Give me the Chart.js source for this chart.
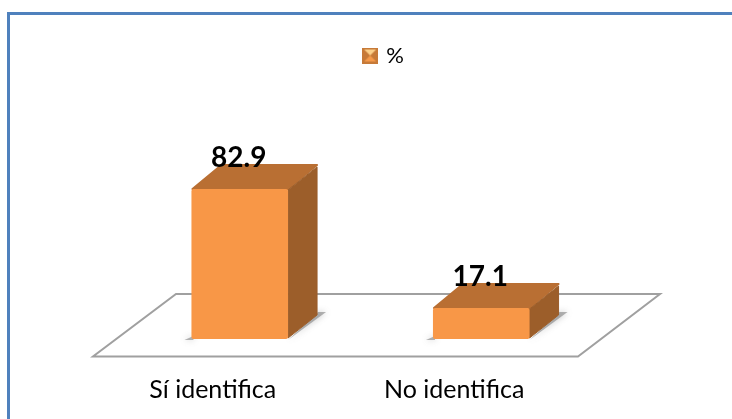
<!DOCTYPE html>
<html>
<head>
<meta charset="utf-8">
<script src="https://cdn.jsdelivr.net/npm/chart.js@4"></script>
<style>
  html, body { margin: 0; padding: 0; background: #fff; overflow: hidden; }
  #frame { position: absolute; left: 7px; top: 12px; right: 0; bottom: 0; border-left: 3px solid #4f81bd; border-top: 3px solid #4f81bd; }
  #grafico { position: absolute; left: 0; top: 0; }
</style>
</head>
<body>
<div id="frame"></div>
<canvas id="grafico" width="732" height="419"></canvas>
<script>
const categorias = ["Sí identifica", "No identifica"];
const porcentajes = [82.9, 17.1];
const nombreSerie = "%";

// profundidad del efecto 3D
const fondoX = 30;
const fondoY = -24;

function poligono(ctx, puntos, color, redondeo) {
  ctx.beginPath();
  ctx.moveTo(puntos[0][0], puntos[0][1]);
  puntos.slice(1).forEach(p => ctx.lineTo(p[0], p[1]));
  ctx.closePath();
  ctx.fillStyle = color;
  ctx.fill();
  if (redondeo) {
    ctx.strokeStyle = color;
    ctx.lineJoin = "round";
    ctx.lineWidth = redondeo;
    ctx.stroke();
  }
}

// icono de la leyenda
const icono = document.createElement("canvas");
icono.width = 16;
icono.height = 16;
const ic = icono.getContext("2d");
ic.fillStyle = "#c77a38";
ic.fillRect(0, 0, 16, 16);
poligono(ic, [[2, 2], [14, 2], [8, 8]], "#fcd08a");
poligono(ic, [[2, 14], [14, 14], [8, 8]], "#f59a4b");

const cajas3d = {
  id: "cajas3d",
  afterLayout(chart) {
    chart.legend.left += 24;
    chart.legend.right += 24;
  },
  beforeDatasetsDraw(chart) {
    const ctx = chart.ctx;
    const base = chart.scales.y.getPixelForValue(0);
    const area = chart.chartArea;

    // piso
    ctx.save();
    ctx.beginPath();
    ctx.moveTo(area.left - 26, base + 17.5);
    ctx.lineTo(area.right - 24, base + 17.5);
    ctx.lineTo(area.right + 58, base - 45);
    ctx.lineTo(area.left + 57, base - 45);
    ctx.closePath();
    ctx.strokeStyle = "#a0a0a0";
    ctx.lineWidth = 2;
    ctx.stroke();

    chart.getDatasetMeta(0).data.forEach(barra => {
      const izq = barra.x - barra.width / 2;
      const der = barra.x + barra.width / 2;
      const arriba = barra.y;

      // sombra
      ctx.save();
      ctx.shadowColor = "rgba(110,110,110,0.7)";
      ctx.shadowBlur = 6;
      poligono(ctx, [[der, base + 1], [der + fondoX + 8, base + fondoY - 3], [der + fondoX, base + fondoY - 3]], "rgba(130,130,130,0.6)");
      poligono(ctx, [[izq - 7, base + 1], [izq + 2, base + 1], [izq + 2, base - 3]], "rgba(130,130,130,0.6)");
      ctx.restore();

      // cara superior
      poligono(ctx, [[izq + 1, arriba], [izq + fondoX, arriba + fondoY], [der + fondoX - 1, arriba + fondoY], [der, arriba]], "#b96f33", 2);
      // cara lateral
      poligono(ctx, [[der, arriba + 1], [der + fondoX - 1, arriba + fondoY + 2], [der + fondoX - 1, base + fondoY], [der, base - 1]], "#9c5e2a", 1);
    });
    ctx.restore();
  },
  afterDatasetsDraw(chart) {
    const ctx = chart.ctx;
    ctx.save();
    ctx.font = "bold 28px Lato";
    ctx.fillStyle = "#000";
    ctx.textAlign = "center";
    ctx.textBaseline = "middle";
    chart.getDatasetMeta(0).data.forEach((barra, i) => {
      ctx.fillText(porcentajes[i], barra.x - 1, barra.y - 31);
    });
    ctx.restore();
  }
};

new Chart(document.getElementById("grafico"), {
  type: "bar",
  data: {
    labels: categorias,
    datasets: [{
      label: nombreSerie,
      data: porcentajes,
      backgroundColor: "#f89747",
      borderRadius: 2,
      borderSkipped: false,
      barPercentage: 0.8,
      categoryPercentage: 0.5
    }]
  },
  options: {
    responsive: false,
    animation: false,
    layout: {
      padding: { top: 43.5, left: 119, right: 130, bottom: 0 }
    },
    plugins: {
      tooltip: { enabled: false },
      legend: {
        position: "top",
        labels: {
          usePointStyle: true,
          pointStyle: icono,
          pointStyleWidth: 10,
          boxHeight: 16,
          padding: 1,
          color: "#000",
          font: { family: "Lato", size: 22 }
        }
      }
    },
    scales: {
      y: {
        display: false,
        min: 0,
        max: 145
      },
      x: {
        afterFit(escala) {
          escala.height = 80;
        },
        grid: { display: false },
        border: { display: false },
        ticks: {
          color: "#000",
          padding: 28,
          labelOffset: -27,
          maxRotation: 0,
          font: { family: "Lato", size: 25 }
        }
      }
    }
  },
  plugins: [cajas3d]
});
</script>
</body>
</html>
